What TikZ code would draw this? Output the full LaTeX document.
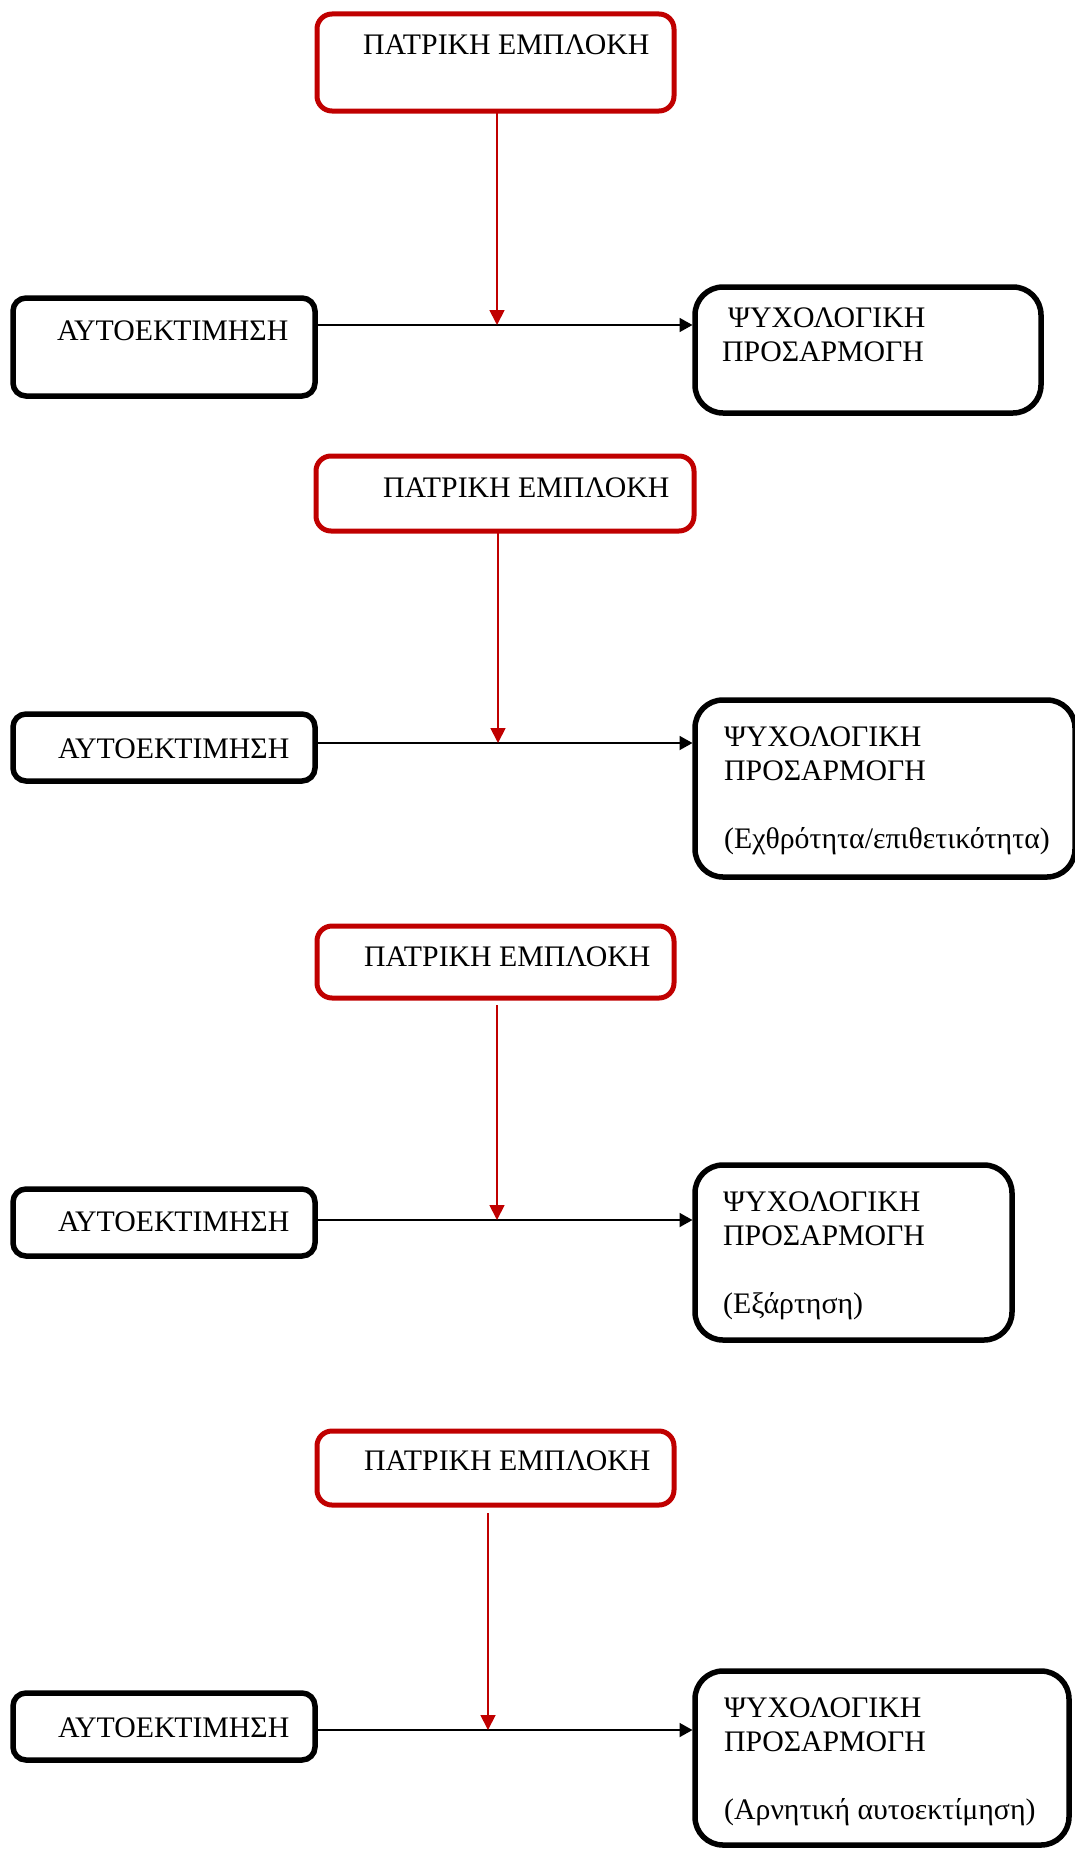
\documentclass[tikz,border=0pt]{standalone}
\usepackage{fontspec}
\setmainfont{Liberation Serif}
\usetikzlibrary{arrows.meta}
\definecolor{parred}{HTML}{C00000}

\begin{document}
\begin{tikzpicture}[x=1pt, y=-1pt,
  font=\fontsize{29.8}{34}\selectfont,
  redbox/.style={
    draw=parred,
    line width=5pt,
    rounded corners=15pt,
    anchor=north west,
    inner sep=0pt,
    outer sep=0pt
  },
  blackbox/.style={
    draw,
    line width=5.5pt,
    rounded corners=13pt,
    anchor=north west,
    inner sep=0pt,
    outer sep=0pt
  },
  psybox/.style={blackbox, rounded corners=28pt},
  boxtext/.style={anchor=base west, inner sep=0pt, align=left},
  line/.style={-{Triangle[length=13pt, width=14pt]}, line width=1.8pt, shorten >=2.5pt},
  redline/.style={-{Triangle[length=15pt, width=15pt]}, draw=parred, line width=1.8pt}
  ]
\useasboundingbox (0,0) rectangle (1074,1852);

% Panel 1
\node[redbox, minimum width=357, minimum height=97] (pat1) at (317,14) {};
\node[blackbox, minimum width=302, minimum height=98] (aut1) at (13,298) {};
\node[psybox, minimum width=346, minimum height=126] (psy1) at (695,287) {};
\node[boxtext] (pat1txt) at (363,55) {ΠΑΤΡΙΚΗ ΕΜΠΛΟΚΗ};
\node[boxtext] (aut1txt) at (57,340) {ΑΥΤΟΕΚΤΙΜΗΣΗ};
\node[boxtext] (psy1txt) at (722,361.5) {\hspace*{6pt}ΨΥΧΟΛΟΓΙΚΗ\\ΠΡΟΣΑΡΜΟΓΗ};
\coordinate (j1) at (497,325);

% Panel 2
\node[redbox, minimum width=378, minimum height=75] (pat2) at (316,456) {};
\node[blackbox, minimum width=302, minimum height=67] (aut2) at (13,714) {};
\node[psybox, minimum width=380, minimum height=177] (psy2) at (695,700) {};
\node[boxtext] (pat2txt) at (383,497) {ΠΑΤΡΙΚΗ ΕΜΠΛΟΚΗ};
\node[boxtext] (aut2txt) at (58,758) {ΑΥΤΟΕΚΤΙΜΗΣΗ};
\node[boxtext] (psy2txt) at (724,848.5) {ΨΥΧΟΛΟΓΙΚΗ\\ΠΡΟΣΑΡΜΟΓΗ\\[34pt](Εχθρότητα/επιθετικότητα)};
\coordinate (j2) at (498,743);

% Panel 3
\node[redbox, minimum width=357, minimum height=72] (pat3) at (317,926) {};
\node[blackbox, minimum width=302, minimum height=67] (aut3) at (13,1189) {};
\node[psybox, minimum width=317, minimum height=175] (psy3) at (695,1165) {};
\node[boxtext] (pat3txt) at (364,966) {ΠΑΤΡΙΚΗ ΕΜΠΛΟΚΗ};
\node[boxtext] (aut3txt) at (58,1231) {ΑΥΤΟΕΚΤΙΜΗΣΗ};
\node[boxtext] (psy3txt) at (723,1313.5) {ΨΥΧΟΛΟΓΙΚΗ\\ΠΡΟΣΑΡΜΟΓΗ\\[34pt](Εξάρτηση)};
\coordinate (j3) at (497,1220);

% Panel 4
\node[redbox, minimum width=357, minimum height=74] (pat4) at (317,1431) {};
\node[blackbox, minimum width=302, minimum height=67] (aut4) at (13,1693) {};
\node[psybox, minimum width=374, minimum height=174] (psy4) at (695,1671) {};
\node[boxtext] (pat4txt) at (364,1470) {ΠΑΤΡΙΚΗ ΕΜΠΛΟΚΗ};
\node[boxtext] (aut4txt) at (58,1737) {ΑΥΤΟΕΚΤΙΜΗΣΗ};
\node[boxtext] (psy4txt) at (724,1819.5) {ΨΥΧΟΛΟΓΙΚΗ\\ΠΡΟΣΑΡΜΟΓΗ\\[34pt](Αρνητική αυτοεκτίμηση)};
\coordinate (j4) at (488,1730);

% Arrows
\draw[line] (aut1.east |- j1) -- (psy1.west |- j1);
\draw[line] (aut2.east |- j2) -- (psy2.west |- j2);
\draw[line] (aut3.east |- j3) -- (psy3.west |- j3);
\draw[line] (aut4.east |- j4) -- (psy4.west |- j4);

\draw[redline] (pat1.south -| j1) -- (j1);
\draw[redline] (pat2.south -| j2) -- (j2);
\draw[redline, shorten <=7pt] (pat3.south -| j3) -- (j3);
\draw[redline, shorten <=8pt] (pat4.south -| j4) -- (j4);

\end{tikzpicture}
\end{document}
